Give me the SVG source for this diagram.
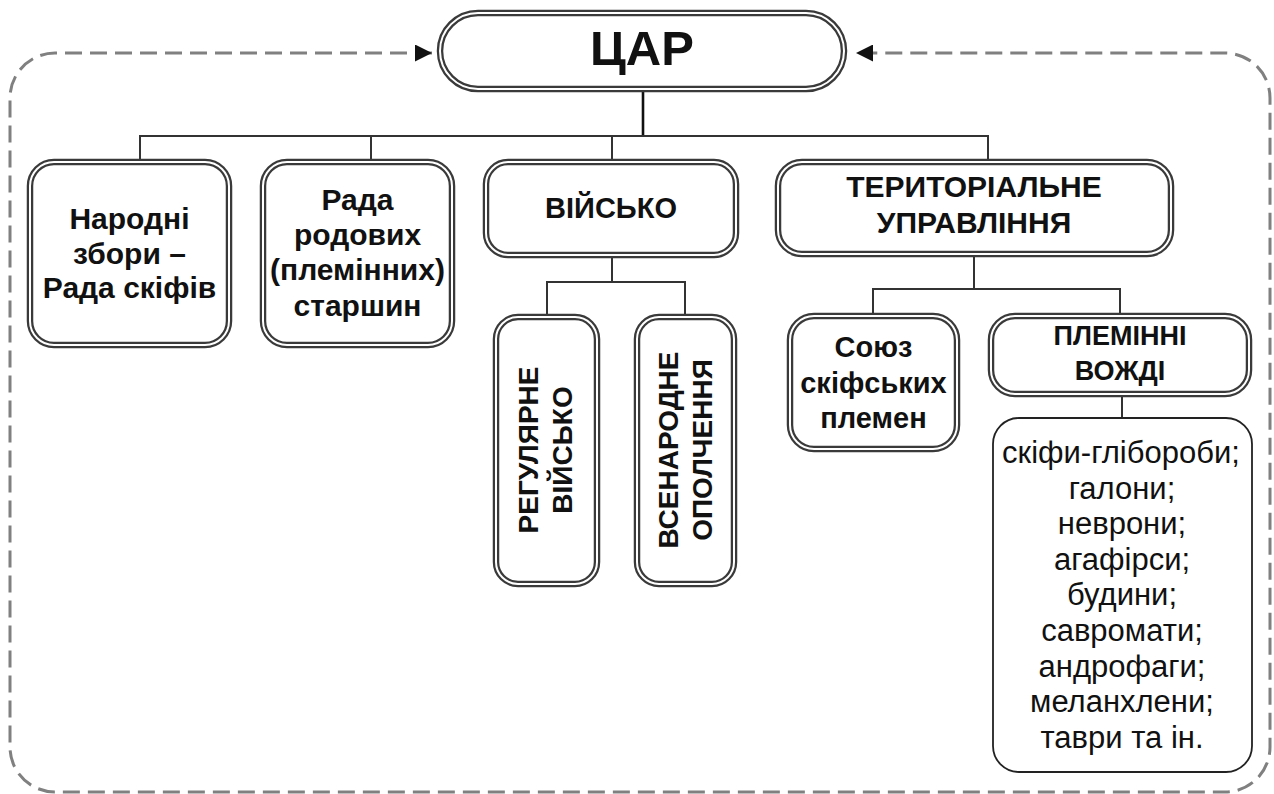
<svg xmlns="http://www.w3.org/2000/svg" width="1274" height="794" viewBox="0 0 1274 794">
  <style>
    .frame { fill: #fff; stroke: #3a3a3a; stroke-width: 6.5; }
    .gap { fill: none; stroke: #fff; stroke-width: 2; }
    .plain { fill: #fff; stroke: #222; stroke-width: 1.8; }
    .lbl { font-family: "Liberation Sans", Arial, sans-serif; font-weight: bold; font-size: 29px; fill: #111; text-anchor: middle; }
    .lst { font-family: "Liberation Sans", Arial, sans-serif; font-size: 31px; fill: #111; text-anchor: middle; }
    .link { fill: none; stroke: #333; stroke-width: 2; }
    .loop { fill: none; stroke: #808080; stroke-width: 3; stroke-dasharray: 17 8; }
  </style>
  <defs>
    <marker id="tip" viewBox="0 0 10 10" refX="10" refY="5" markerWidth="17" markerHeight="17" markerUnits="userSpaceOnUse" orient="auto-start-reverse">
      <path d="M0,0 L10,5 L0,10 z" fill="#111"/>
    </marker>
  </defs>
  <rect width="1274" height="794" fill="#fff"/>

  <!-- connectors -->
  <g id="connectors">
    <path class="loop" d="M432,53 H55 A45,45 0 0 0 10,98 V747 A45,45 0 0 0 55,792 H1225 A45,45 0 0 0 1270,747 V98 A45,45 0 0 0 1225,53 H856" marker-start="url(#tip)" marker-end="url(#tip)"/>
    <path class="link" d="M643,92 V136" style="stroke:#111;stroke-width:2.6"/>
    <path class="link" d="M140,159 V136 H988 V159"/>
    <path class="link" d="M371,136 V159"/>
    <path class="link" d="M612,136 V159"/>
    <path class="link" d="M612,258 V282"/>
    <path class="link" d="M547,314 V282 H685 V314"/>
    <path class="link" d="M974,257 V289"/>
    <path class="link" d="M873,313 V289 H1120 V313"/>
    <path class="link" d="M1122,397 V418"/>
  </g>

  <!-- ЦАР -->
  <g id="tsar">
    <rect class="frame" x="440" y="13" width="404" height="76" rx="38"/>
    <rect class="gap" x="440" y="13" width="404" height="76" rx="38"/>
    <text class="lbl" x="642" y="65" style="font-size:49px">ЦАР</text>
  </g>

  <!-- Народні збори -->
  <g id="assembly">
    <rect class="frame" x="30" y="162" width="199" height="183" rx="24"/>
    <rect class="gap" x="30" y="162" width="199" height="183" rx="24"/>
    <text class="lbl" x="129.5" y="229" style="font-size:30px">Народні</text>
    <text class="lbl" x="129.5" y="264" style="font-size:30px">збори –</text>
    <text class="lbl" x="129.5" y="298" style="font-size:30px">Рада скіфів</text>
  </g>

  <!-- Рада старшин -->
  <g id="elders">
    <rect class="frame" x="263" y="162" width="189" height="183" rx="24"/>
    <rect class="gap" x="263" y="162" width="189" height="183" rx="24"/>
    <text class="lbl" x="357.5" y="210" style="font-size:30px">Рада</text>
    <text class="lbl" x="357.5" y="245" style="font-size:30px">родових</text>
    <text class="lbl" x="357.5" y="280" style="font-size:30px">(племінних)</text>
    <text class="lbl" x="357.5" y="316" style="font-size:30px">старшин</text>
  </g>

  <!-- Військо -->
  <g id="army">
    <rect class="frame" x="486" y="162" width="250" height="93" rx="22"/>
    <rect class="gap" x="486" y="162" width="250" height="93" rx="22"/>
    <text class="lbl" x="611" y="218">ВІЙСЬКО</text>
  </g>

  <g id="regular-army">
    <rect class="frame" x="496" y="317" width="101" height="267" rx="22"/>
    <rect class="gap" x="496" y="317" width="101" height="267" rx="22"/>
    <g transform="translate(546,450) rotate(-90)">
      <text class="lbl" x="0" y="-8" style="font-size:28px">РЕГУЛЯРНЕ</text>
      <text class="lbl" x="0" y="26" style="font-size:28px">ВІЙСЬКО</text>
    </g>
  </g>

  <g id="militia">
    <rect class="frame" x="637" y="317" width="97" height="267" rx="22"/>
    <rect class="gap" x="637" y="317" width="97" height="267" rx="22"/>
    <g transform="translate(685.5,450) rotate(-90)">
      <text class="lbl" x="0" y="-8" style="font-size:28px">ВСЕНАРОДНЕ</text>
      <text class="lbl" x="0" y="26" style="font-size:28px">ОПОЛЧЕННЯ</text>
    </g>
  </g>

  <!-- Територіальне управління -->
  <g id="territorial">
    <rect class="frame" x="778" y="162" width="393" height="92" rx="24"/>
    <rect class="gap" x="778" y="162" width="393" height="92" rx="24"/>
    <text class="lbl" x="974" y="197" style="font-size:30px">ТЕРИТОРІАЛЬНЕ</text>
    <text class="lbl" x="974" y="233" style="font-size:30px">УПРАВЛІННЯ</text>
  </g>

  <g id="union">
    <rect class="frame" x="790" y="316" width="167" height="133" rx="24"/>
    <rect class="gap" x="790" y="316" width="167" height="133" rx="24"/>
    <text class="lbl" x="873.5" y="357">Союз</text>
    <text class="lbl" x="873.5" y="393">скіфських</text>
    <text class="lbl" x="873.5" y="428">племен</text>
  </g>

  <g id="chiefs">
    <rect class="frame" x="991" y="316" width="258" height="78" rx="24"/>
    <rect class="gap" x="991" y="316" width="258" height="78" rx="24"/>
    <text class="lbl" x="1120" y="345" style="font-size:27px">ПЛЕМІННІ</text>
    <text class="lbl" x="1120" y="380" style="font-size:27px">ВОЖДІ</text>
  </g>

  <g id="tribes">
    <rect class="plain" x="993" y="418" width="259" height="354" rx="26"/>
    <text class="lst" x="1121" y="463">скіфи-&#x433;&#x43B;&#x456;&#x431;&#x43E;&#x440;&#x43E;&#x431;&#x438;;</text>
    <text class="lst" x="1122" y="499">галони;</text>
    <text class="lst" x="1122" y="534">неврони;</text>
    <text class="lst" x="1122" y="570">агафірси;</text>
    <text class="lst" x="1122" y="605">будини;</text>
    <text class="lst" x="1122" y="641">савромати;</text>
    <text class="lst" x="1122" y="677">андрофаги;</text>
    <text class="lst" x="1122" y="712">меланхлени;</text>
    <text class="lst" x="1122" y="748">таври та ін.</text>
  </g>
</svg>
